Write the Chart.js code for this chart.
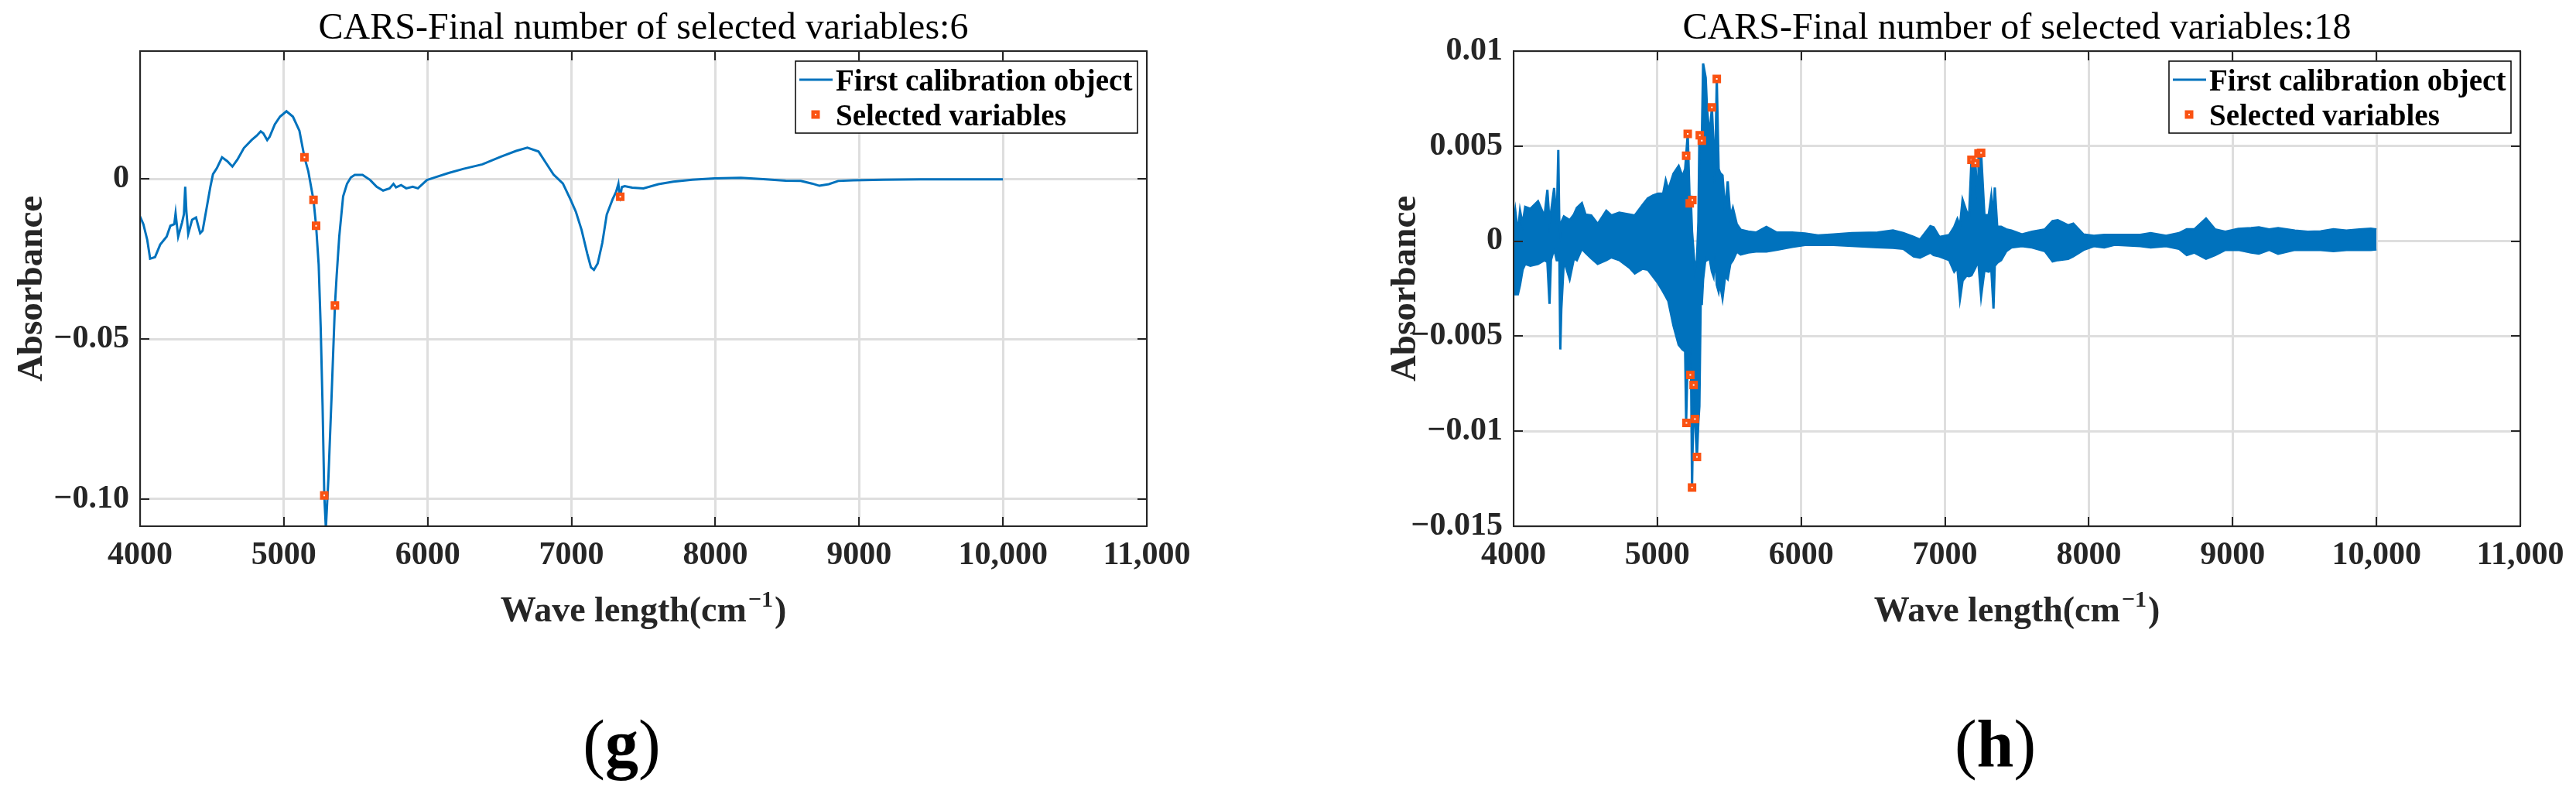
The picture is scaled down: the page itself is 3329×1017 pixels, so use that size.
<!DOCTYPE html>
<html>
<head>
<meta charset="utf-8">
<title>CARS selected variables</title>
<script src="https://cdn.jsdelivr.net/npm/chart.js@4.4.1/dist/chart.umd.min.js"></script>
<style>
  html, body { margin: 0; padding: 0; background: #fff; overflow: hidden; }
  #wrap { position: relative; width: 3329px; height: 1017px; }
  #wrap canvas { position: absolute; left: 0; top: 0; }
</style>
</head>
<body>
<div id="wrap">
  <canvas id="chartG" width="3329" height="1017"></canvas>
  <canvas id="chartH" width="3329" height="1017"></canvas>
</div>
<script>
// axis ticks (shared x)
const xTicks = [4000, 5000, 6000, 7000, 8000, 9000, 10000, 11000];
const xTickLabels = ["4000", "5000", "6000", "7000", "8000", "9000", "10,000", "11,000"];

const gYTicks = [-0.1, -0.05, 0];
const gYTickLabels = ["\u22120.10", "\u22120.05", "0"];
const hYTicks = [-0.015, -0.01, -0.005, 0, 0.005, 0.01];
const hYTickLabels = ["\u22120.015", "\u22120.01", "\u22120.005", "0", "0.005", "0.01"];

// (g) spectrum
const gWave = [4000, 4023, 4050, 4070, 4104, 4140, 4185, 4211, 4238, 4247,
  4265, 4292, 4305, 4314, 4322, 4335, 4362, 4389, 4418, 4435,
  4462, 4489, 4507, 4534, 4570, 4606, 4642, 4677, 4722, 4776,
  4812, 4839, 4857, 4884, 4901, 4937, 4973, 5018, 5063, 5108,
  5143, 5170, 5197, 5206, 5224, 5242, 5256, 5269, 5281, 5292,
  5310, 5331, 5355, 5367, 5385, 5412, 5439, 5466, 5493, 5547,
  5600, 5645, 5690, 5735, 5762, 5780, 5815, 5851, 5896, 5932,
  5995, 6048, 6146, 6250, 6380, 6510, 6615, 6693, 6771, 6823,
  6875, 6940, 6992, 7031, 7070, 7109, 7135, 7156, 7182, 7214,
  7245, 7286, 7310, 7326, 7333, 7339, 7350, 7370, 7422, 7500,
  7604, 7708, 7839, 7995, 8177, 8333, 8490, 8594, 8672, 8724,
  8789, 8854, 8958, 9167, 9427, 9688, 10000];
const gAbs = [-0.0117, -0.0141, -0.0190, -0.0249, -0.0244, -0.0205, -0.0180, -0.0146, -0.0141, -0.0107,
  -0.0180, -0.0136, -0.0110, -0.0024, -0.0100, -0.0171, -0.0127, -0.0120, -0.0169, -0.0161,
  -0.0093, -0.0024, 0.0015, 0.0034, 0.0068, 0.0056, 0.0039, 0.0061, 0.0097, 0.0122,
  0.0136, 0.0149, 0.0143, 0.0122, 0.0132, 0.0171, 0.0195, 0.0212, 0.0195, 0.0151,
  0.0068, 0.0024, -0.0044, -0.0065, -0.0146, -0.0268, -0.0463, -0.0707, -0.0989, -0.1092,
  -0.0931, -0.0687, -0.0395, -0.0302, -0.0180, -0.0054, -0.0015, 0.0005, 0.0013, 0.0013,
  -0.0003, -0.0024, -0.0036, -0.0029, -0.0015, -0.0026, -0.0019, -0.0029, -0.0024, -0.0029,
  -0.0003, 0.0005, 0.0019, 0.0032, 0.0046, 0.0070, 0.0088, 0.0098, 0.0086, 0.0050,
  0.0014, -0.0014, -0.0063, -0.0103, -0.0159, -0.0232, -0.0276, -0.0284, -0.0264, -0.0200,
  -0.0111, -0.0063, -0.0040, -0.0015, -0.0045, -0.0055, -0.0025, -0.0022, -0.0027, -0.0029,
  -0.0016, -0.0008, -0.0002, 0.0002, 0.0004, 0.0000, -0.0005, -0.0006, -0.0014, -0.0021,
  -0.0016, -0.0006, -0.0004, -0.0002, -0.0001, -0.0001, -0.0001];
const gSelWave = [5143, 5206, 5224, 5281, 5355, 7339];
const gSelAbs = [0.0068, -0.0065, -0.0146, -0.0989, -0.0395, -0.0055];

// (h) noisy spectrum: upper and lower edge of the blue band
const hWave = [4000, 4012, 4030, 4045, 4063, 4081, 4117, 4170, 4215, 4235,
  4250, 4260, 4282, 4300, 4311, 4318, 4325, 4332, 4350, 4390,
  4420, 4440, 4475, 4500, 4540, 4585, 4645, 4680, 4735, 4807,
  4843, 4897, 4933, 4969, 5004, 5040, 5058, 5076, 5112, 5148,
  5175, 5193, 5200, 5211, 5225, 5233, 5241, 5252, 5261, 5275,
  5285, 5292, 5301, 5309, 5318, 5336, 5345, 5363, 5379, 5390,
  5400, 5413, 5426, 5435, 5453, 5471, 5489, 5507, 5525, 5552,
  5579, 5632, 5686, 5758, 5830, 5937, 6027, 6117, 6224, 6352,
  6531, 6638, 6710, 6782, 6826, 6898, 6921, 6961, 7029, 7064,
  7086, 7104, 7122, 7149, 7167, 7184, 7211, 7229, 7233, 7251,
  7274, 7304, 7322, 7337, 7346, 7363, 7390, 7426, 7462, 7534,
  7605, 7695, 7748, 7784, 7856, 7892, 7963, 8035, 8107, 8179,
  8358, 8430, 8537, 8627, 8681, 8734, 8815, 8878, 8949, 9039,
  9128, 9182, 9254, 9316, 9433, 9522, 9612, 9701, 9791, 9881,
  9961, 10000];
const hUpper = [0.0009, 0.0016, 0.0004, 0.0016, 0.0009, 0.0018, 0.0017, 0.0021, 0.0013, 0.0027,
  0.0010, 0.0015, 0.0028, 0.0009, 0.0048, 0.0010, 0.0005, 0.0010, 0.0013, 0.0011,
  0.0014, 0.00175, 0.0020, 0.0014, 0.00135, 0.0009, 0.0016, 0.00135, 0.0015, 0.0014,
  0.00135, 0.0019, 0.00225, 0.0024, 0.0025, 0.0025, 0.0032, 0.0027, 0.00355, 0.00395,
  0.0034, 0.0038, 0.0045, 0.00564, 0.0020, 0.00216, 0.0005, -0.0006, -0.0015, -0.0010,
  0.0010, 0.0055, 0.00557, 0.00529, 0.00935, 0.0086, 0.0070, 0.0055, 0.00704, 0.0052,
  0.0030, 0.00853, 0.0038, 0.0036, 0.00346, 0.0016, 0.00314, 0.0013, 0.00175, 0.0009,
  0.0006, 0.0005, 0.00045, 0.00075, 0.00045, 0.00045, 0.0004, 0.0003, 0.00035, 0.00042,
  0.00045, 0.00056, 0.00042, 0.00022, 0.00008, 0.00079, 0.00073, 0.00022, 0.00032, 0.00075,
  0.00117, 0.0008, 0.00218, 0.00157, 0.0013, 0.00428, 0.00411, 0.0020, 0.00462, 0.00465,
  0.00137, 0.00137, 0.00238, 0.0012, 0.00282, 0.00076, 0.00076, 0.00062, 0.00056, 0.00035,
  0.00049, 0.00062, 0.00106, 0.0011, 0.00083, 0.00092, 0.00035, 0.00028, 0.00033, 0.00033,
  0.00033, 0.00042, 0.00028, 0.00042, 0.00062, 0.00062, 0.00119, 0.00062, 0.00049, 0.00065,
  0.00069, 0.00073, 0.00062, 0.00069, 0.00055, 0.00049, 0.00051, 0.00062, 0.00055, 0.00062,
  0.00066, 0.00062];
const hLower = [-0.0022, -0.0028, -0.0028, -0.0023, -0.0015, -0.0012, -0.0013, -0.0012, -0.0010, -0.0011,
  -0.0033, -0.0010, -0.0004, -0.0010, -0.0010, -0.0005, -0.0057, -0.0036, -0.0010, -0.0020,
  -0.0009, -0.0010, -0.0004, -0.0006, -0.0009, -0.0012, -0.0010, -0.00085, -0.0010, -0.0014,
  -0.0017, -0.00145, -0.0015, -0.00185, -0.0022, -0.00265, -0.0029, -0.00315, -0.00445, -0.00545,
  -0.0057, -0.0058, -0.0095, -0.0060, -0.0070, -0.0056, -0.01296, -0.00757, -0.00936, -0.01136,
  -0.0095, -0.0087, -0.0033, -0.0033, -0.0020, -0.0008, -0.0010, -0.0009, -0.0016, -0.00185,
  -0.0006, -0.0023, -0.00266, -0.0022, -0.0030, -0.00185, -0.0020, -0.0012, -0.0010, -0.00055,
  -0.0007, -0.0006, -0.00055, -0.00055, -0.00045, -0.0003, -0.0002, -0.0002, -0.0002, -0.00025,
  -0.00032, -0.00035, -0.0004, -0.0008, -0.00087, -0.0006, -0.00073, -0.0008, -0.0010, -0.00161,
  -0.0014, -0.00304, -0.00209, -0.00182, -0.00185, -0.0018, -0.0014, -0.00107, -0.0012, -0.0029,
  -0.00155, -0.00161, -0.0015, -0.00355, -0.0013, -0.00114, -0.0010, -0.00053, -0.00033, -0.00026,
  -0.00033, -0.00053, -0.00107, -0.0010, -0.00093, -0.0008, -0.00046, -0.00026, -0.00033, -0.00019,
  -0.00026, -0.00033, -0.00026, -0.0004, -0.00073, -0.0006, -0.00093, -0.00073, -0.00046, -0.00046,
  -0.0006, -0.00066, -0.00046, -0.00066, -0.00046, -0.00046, -0.00046, -0.00053, -0.00046, -0.00046,
  -0.00046, -0.00043];
const hSelWave = [5200, 5202, 5211, 5225, 5229, 5241, 5243, 5252, 5261, 5275, 5295, 5309, 5379, 5413, 7184, 7211, 7233, 7251];
const hSelAbs = [0.00449, -0.00956, 0.00564, 0.00199, -0.00704, -0.01296, 0.00216, -0.00757, -0.00936, -0.01136,
  0.00557, 0.00529, 0.00704, 0.00853, 0.00428, 0.00411, 0.00462, 0.00465];

const FONT = '"Liberation Serif", "Times New Roman", serif';
const BLUE = "#0072BD";
const ORANGE = "#FA5212";
const GRID = "#DEDEDE";
const INK = "#262626";

function pts(xs, ys) {
  return xs.map((x, i) => ({ x: x, y: ys[i] }));
}

function drawMarker(ctx, x, y) {
  ctx.fillStyle = ORANGE;
  ctx.fillRect(x - 5.5, y - 5.5, 11, 11);
  ctx.fillStyle = "#fff";
  ctx.fillRect(x - 1, y - 1, 2, 2);
}

// matlab style frame, ticks, titles, legend and panel letter
const matlabFrame = {
  id: "matlabFrame",
  afterDraw(chart, args, o) {
    const { ctx, chartArea: a } = chart;
    const sx = chart.scales.x, sy = chart.scales.y;
    const cx = (a.left + a.right) / 2;
    ctx.save();

    ctx.strokeStyle = INK;
    ctx.lineWidth = 2;
    ctx.beginPath();
    sx.ticks.forEach(t => {
      const p = Math.round(sx.getPixelForValue(t.value));
      ctx.moveTo(p, a.bottom); ctx.lineTo(p, a.bottom - 12);
      ctx.moveTo(p, a.top); ctx.lineTo(p, a.top + 12);
    });
    sy.ticks.forEach(t => {
      const p = Math.round(sy.getPixelForValue(t.value));
      ctx.moveTo(a.left, p); ctx.lineTo(a.left + 12, p);
      ctx.moveTo(a.right, p); ctx.lineTo(a.right - 12, p);
    });
    ctx.stroke();
    ctx.strokeRect(a.left, a.top, a.right - a.left, a.bottom - a.top);

    // title
    ctx.fillStyle = "#000";
    ctx.textBaseline = "alphabetic";
    ctx.textAlign = "center";
    ctx.font = "48px " + FONT;
    ctx.fillText(o.title, cx, 50);

    // x label with superscript
    ctx.textAlign = "left";
    ctx.fillStyle = INK;
    const main = "bold 46px " + FONT, sup = "bold 30px " + FONT;
    ctx.font = main;
    const w1 = ctx.measureText("Wave length(cm").width;
    const w3 = ctx.measureText(")").width;
    ctx.font = sup;
    const w2 = ctx.measureText("\u22121").width + 4;
    let lx = cx - (w1 + w2 + w3) / 2;
    ctx.font = main;
    ctx.fillText("Wave length(cm", lx, 803);
    ctx.font = sup;
    ctx.fillText("\u22121", lx + w1 + 2, 784);
    ctx.font = main;
    ctx.fillText(")", lx + w1 + w2, 803);

    // y label
    ctx.save();
    ctx.translate(a.left - 127, (a.top + a.bottom) / 2);
    ctx.rotate(-Math.PI / 2);
    ctx.textAlign = "center";
    ctx.font = "bold 47px " + FONT;
    ctx.fillText("Absorbance", 0, 0);
    ctx.restore();

    // legend
    const bl = a.right - 454, br = a.right - 12;
    ctx.fillStyle = "#fff";
    ctx.fillRect(bl, 79, br - bl, 93);
    ctx.strokeStyle = "#000";
    ctx.lineWidth = 1.5;
    ctx.strokeRect(bl, 79, br - bl, 93);
    const ds = chart.data.datasets;
    ctx.font = "bold 39px " + FONT;
    ctx.fillStyle = "#000";
    ctx.textAlign = "left";
    ctx.fillText(ds[o.lineSet].label, a.right - 402, 117);
    ctx.fillText(ds[o.markSet].label, a.right - 402, 162);
    ctx.strokeStyle = BLUE;
    ctx.lineWidth = 3;
    ctx.beginPath();
    ctx.moveTo(a.right - 449, 103);
    ctx.lineTo(a.right - 406, 103);
    ctx.stroke();
    drawMarker(ctx, a.right - 428, 148);

    // panel letter
    ctx.fillStyle = "#000";
    const pn = "86px " + FONT, pb = "bold 86px " + FONT;
    ctx.font = pn;
    const wp = ctx.measureText("(").width, wq = ctx.measureText(")").width;
    ctx.font = pb;
    const wl = ctx.measureText(o.panel).width;
    let px = cx - 28 - (wp + wl + wq) / 2;
    ctx.font = pn;
    ctx.fillText("(", px, 990);
    ctx.font = pb;
    ctx.fillText(o.panel, px + wp, 990);
    ctx.font = pn;
    ctx.fillText(")", px + wp + wl, 990);

    ctx.restore();
  }
};

function makeChart(id, cfg) {
  return new Chart(document.getElementById(id), {
    type: "line",
    data: { datasets: cfg.datasets },
    options: {
      responsive: false,
      animation: false,
      events: [],
      layout: { padding: { left: cfg.padLeft, right: cfg.padRight, top: 66, bottom: 0 } },
      elements: { line: { tension: 0 } },
      scales: {
        x: {
          type: "linear",
          min: 4000,
          max: 11000,
          afterBuildTicks: s => { s.ticks = xTicks.map(v => ({ value: v })); },
          afterFit: s => { s.height = 337; },
          grid: { color: GRID, lineWidth: 3, drawTicks: false },
          border: { display: false },
          ticks: {
            autoSkip: false,
            maxRotation: 0,
            padding: 13,
            color: INK,
            font: { family: FONT, size: 42, weight: "bold" },
            callback: v => xTickLabels[xTicks.indexOf(v)]
          }
        },
        y: {
          type: "linear",
          min: cfg.yMin,
          max: cfg.yMax,
          afterBuildTicks: s => { s.ticks = cfg.yTicks.map(v => ({ value: v })); },
          afterFit: s => { s.width = cfg.yWidth; },
          grid: { color: GRID, lineWidth: 3, drawTicks: false },
          border: { display: false },
          ticks: {
            autoSkip: false,
            padding: 14,
            color: INK,
            font: { family: FONT, size: 42, weight: "bold" },
            callback: v => cfg.yTickLabels[cfg.yTicks.indexOf(v)]
          }
        }
      },
      plugins: {
        legend: { display: false },
        tooltip: { enabled: false },
        matlabFrame: cfg.frame
      }
    },
    plugins: [matlabFrame]
  });
}

const markerStyle = {
  showLine: false,
  pointStyle: "rect",
  pointRadius: 4.6,
  pointBorderWidth: 4.5,
  pointBackgroundColor: "#ffffff",
  pointBorderColor: ORANGE,
  order: -1
};

// (g)
makeChart("chartG", {
  padLeft: 0,
  padRight: 3329 - 1482,
  yWidth: 181,
  yMin: -0.1085,
  yMax: 0.04,
  yTicks: gYTicks,
  yTickLabels: gYTickLabels,
  frame: { title: "CARS-Final number of selected variables:6", panel: "g", lineSet: 0, markSet: 1 },
  datasets: [
    {
      label: "First calibration object",
      data: pts(gWave, gAbs),
      borderColor: BLUE,
      borderWidth: 3,
      pointRadius: 0
    },
    Object.assign({ label: "Selected variables", data: pts(gSelWave, gSelAbs) }, markerStyle)
  ]
});

// (h)
makeChart("chartH", {
  padLeft: 1956 - 150,
  padRight: 3329 - 3257,
  yWidth: 150,
  yMin: -0.015,
  yMax: 0.01,
  yTicks: hYTicks,
  yTickLabels: hYTickLabels,
  frame: { title: "CARS-Final number of selected variables:18", panel: "h", lineSet: 0, markSet: 2 },
  datasets: [
    {
      label: "First calibration object",
      data: pts(hWave, hUpper),
      borderColor: BLUE,
      backgroundColor: BLUE,
      borderWidth: 3,
      pointRadius: 0,
      fill: "+1"
    },
    {
      label: "First calibration object (lower)",
      data: pts(hWave, hLower),
      borderColor: BLUE,
      borderWidth: 3,
      pointRadius: 0
    },
    Object.assign({ label: "Selected variables", data: pts(hSelWave, hSelAbs) }, markerStyle)
  ]
});
</script>
</body>
</html>
